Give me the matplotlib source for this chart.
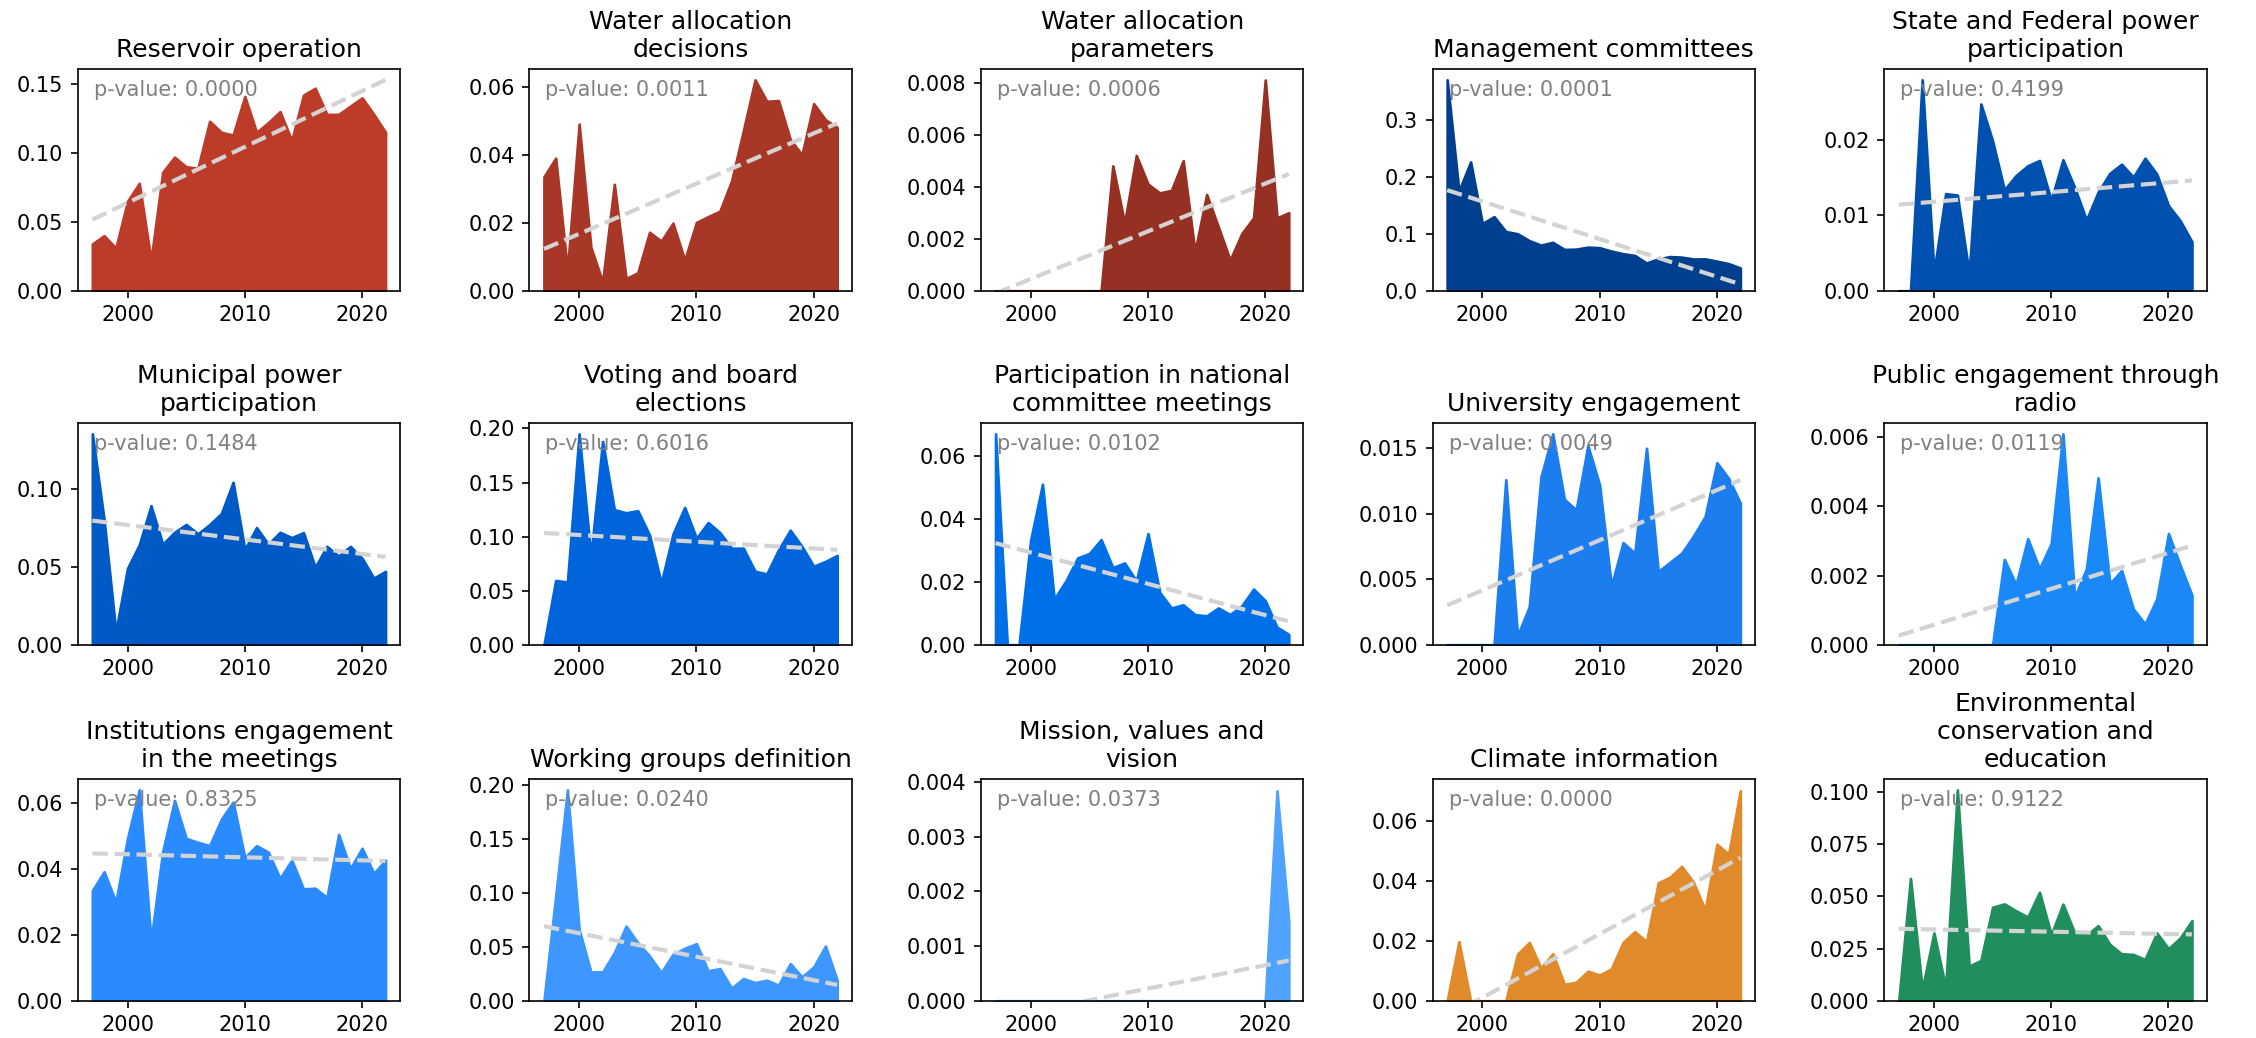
import textwrap
import numpy as np
import matplotlib
matplotlib.use("Agg")
import matplotlib.pyplot as plt

years = list(range(1997, 2023))

categories = [
    "Reservoir operation",
    "Water allocation decisions",
    "Water allocation parameters",
    "Management committees",
    "State and Federal power participation",
    "Municipal power participation",
    "Voting and board elections",
    "Participation in national committee meetings",
    "University engagement",
    "Public engagement through radio",
    "Institutions engagement in the meetings",
    "Working groups definition",
    "Mission, values and vision",
    "Climate information",
    "Environmental conservation and education",
]

reservoir_operation = [0.034, 0.040, 0.031, 0.065, 0.078, 0.022, 0.086, 0.097, 0.090, 0.089,
                       0.123, 0.115, 0.113, 0.141, 0.115, 0.122, 0.130, 0.109, 0.142, 0.147,
                       0.128, 0.128, 0.134, 0.140, 0.128, 0.115]
water_alloc_decisions = [0.0335, 0.039, 0.006, 0.049, 0.0128, 0.0026, 0.0313, 0.0036, 0.0053, 0.0172,
                         0.0146, 0.0199, 0.009, 0.0201, 0.0218, 0.0234, 0.0323, 0.047, 0.062, 0.0557,
                         0.0559, 0.0445, 0.040, 0.055, 0.0503, 0.048]
water_alloc_params = [0, 0, 0, 0, 0, 0, 0, 0, 0, 0,
                      0.0048, 0.0026, 0.0052, 0.0041, 0.00376, 0.00386, 0.0050, 0.0015, 0.0037, 0.00245,
                      0.00118, 0.0022, 0.0028, 0.0081, 0.0028, 0.0030]
management_committees = [0.37, 0.175, 0.226, 0.118, 0.130, 0.104, 0.100, 0.088, 0.080, 0.085,
                         0.0725, 0.073, 0.0766, 0.0755, 0.0696, 0.065, 0.062, 0.0488, 0.056, 0.060,
                         0.059, 0.0557, 0.056, 0.052, 0.0476, 0.040]
state_federal_power = [0, 0, 0.028, 0.0025, 0.0129, 0.0127, 0.0023, 0.0248, 0.0199, 0.0134,
                       0.0153, 0.0166, 0.0173, 0.012, 0.0174, 0.0137, 0.0094, 0.0131, 0.0156, 0.0168,
                       0.0151, 0.0176, 0.0155, 0.0113, 0.0093, 0.0065]
municipal_power = [0.135, 0.080, 0.0084, 0.049, 0.064, 0.089, 0.0644, 0.072, 0.077, 0.071,
                   0.077, 0.084, 0.104, 0.061, 0.075, 0.0644, 0.072, 0.0686, 0.0718, 0.0497,
                   0.063, 0.0568, 0.063, 0.0554, 0.0427, 0.047]
voting_elections = [0, 0.0595, 0.058, 0.195, 0.0817, 0.188, 0.125, 0.122, 0.124, 0.1015,
                    0.057, 0.1024, 0.127, 0.0985, 0.113, 0.1037, 0.0893, 0.0893, 0.068, 0.0655,
                    0.0878, 0.106, 0.0909, 0.0726, 0.0771, 0.0826]
national_meetings = [0.067, 0, 0, 0.0334, 0.051, 0.0145, 0.0203, 0.0276, 0.029, 0.0334,
                     0.0245, 0.026, 0.0203, 0.0353, 0.0166, 0.0117, 0.0127, 0.0096, 0.0092, 0.0117,
                     0.0096, 0.0124, 0.0177, 0.014, 0.0056, 0.0033]
university = [0, 0, 0, 0, 0, 0.0126, 0.0007, 0.0029, 0.0128, 0.0161,
              0.0111, 0.0103, 0.0152, 0.0122, 0.0045, 0.0078, 0.007, 0.015, 0.0056, 0.0063,
              0.007, 0.0083, 0.0098, 0.0139, 0.0127, 0.0108]
radio = [0, 0, 0, 0, 0, 0, 0, 0, 0, 0.00247,
         0.00174, 0.00307, 0.0022, 0.00293, 0.0061, 0.00138, 0.0022, 0.00483, 0.00177, 0.00215,
         0.00104, 0.0006, 0.00133, 0.00322, 0.0023, 0.00143]
institutions = [0.0334, 0.0391, 0.0299, 0.0492, 0.0639, 0.0181, 0.0452, 0.0607, 0.0492, 0.048,
                0.047, 0.055, 0.0602, 0.0434, 0.047, 0.045, 0.0371, 0.0426, 0.0339, 0.0341,
                0.0313, 0.0504, 0.0401, 0.0462, 0.0386, 0.0426]
working_groups = [0, 0.097, 0.1956, 0.0662, 0.0268, 0.0268, 0.0447, 0.0693, 0.0539, 0.0416,
                  0.0262, 0.0431, 0.0487, 0.053, 0.0277, 0.0299, 0.0117, 0.0206, 0.0169, 0.0191,
                  0.0145, 0.0345, 0.0222, 0.0314, 0.0508, 0.0191]
mission = [0, 0, 0, 0, 0, 0, 0, 0, 0, 0,
           0, 0, 0, 0, 0, 0, 0, 0, 0, 0,
           0, 0, 0, 0, 0.00384, 0.00145]
climate = [0, 0.0198, 0, 0, 0, 0, 0.0156, 0.0195, 0.011, 0.0157,
           0.0055, 0.0062, 0.0099, 0.0086, 0.0107, 0.0195, 0.0231, 0.0198, 0.0394, 0.0413,
           0.0449, 0.0396, 0.0303, 0.0523, 0.049, 0.0702]
environmental = [0, 0.0586, 0.0055, 0.0325, 0.0063, 0.101, 0.0166, 0.0193, 0.0448, 0.0464,
                 0.0431, 0.0401, 0.052, 0.0317, 0.0463, 0.0325, 0.0314, 0.036, 0.027, 0.0225,
                 0.0222, 0.0198, 0.0325, 0.025, 0.0301, 0.0384]

series = [reservoir_operation, water_alloc_decisions, water_alloc_params, management_committees,
          state_federal_power, municipal_power, voting_elections, national_meetings, university,
          radio, institutions, working_groups, mission, climate, environmental]

p_values = [0.0000, 0.0011, 0.0006, 0.0001, 0.4199,
            0.1484, 0.6016, 0.0102, 0.0049, 0.0119,
            0.8325, 0.0240, 0.0373, 0.0000, 0.9122]

colors = ["#BC3C29", "#A93727", "#953022", "#003F8D", "#0050B0",
          "#005AC5", "#0064DA", "#0070E8", "#1C7DEE", "#1A88F7",
          "#2A8BFF", "#3D97FF", "#50A2FF", "#E18A2B", "#218E5E"]

W, H = 2256, 1038
fig = plt.figure(figsize=(W / 150, H / 150), dpi=150)

col_left = [77.7 + 451.6 * i for i in range(5)]
row_top = [69.3, 423.3, 779.3]
ax_w, ax_h = 322.5, 221.5

x = np.array(years, dtype=float)
for k, (name, vals) in enumerate(zip(categories, series)):
    r, c = divmod(k, 5)
    ax = fig.add_axes([col_left[c] / W, 1 - (row_top[r] + ax_h) / H, ax_w / W, ax_h / H])
    y = np.array(vals, dtype=float)
    ax.fill_between(x, y, color=colors[k], linewidth=1.3)
    slope, intercept = np.polyfit(x, y, 1)
    ax.plot(x, slope * x + intercept, linestyle="--", color="lightgray", linewidth=2)
    ax.set_ylim(bottom=0)
    ax.set_title(textwrap.fill(name, 25), fontsize=12)
    ax.text(0.05, 0.95, f"p-value: {p_values[k]:.4f}", transform=ax.transAxes,
            ha="left", va="top", color="gray", fontsize=10)

fig.savefig("out.png", dpi=150)
